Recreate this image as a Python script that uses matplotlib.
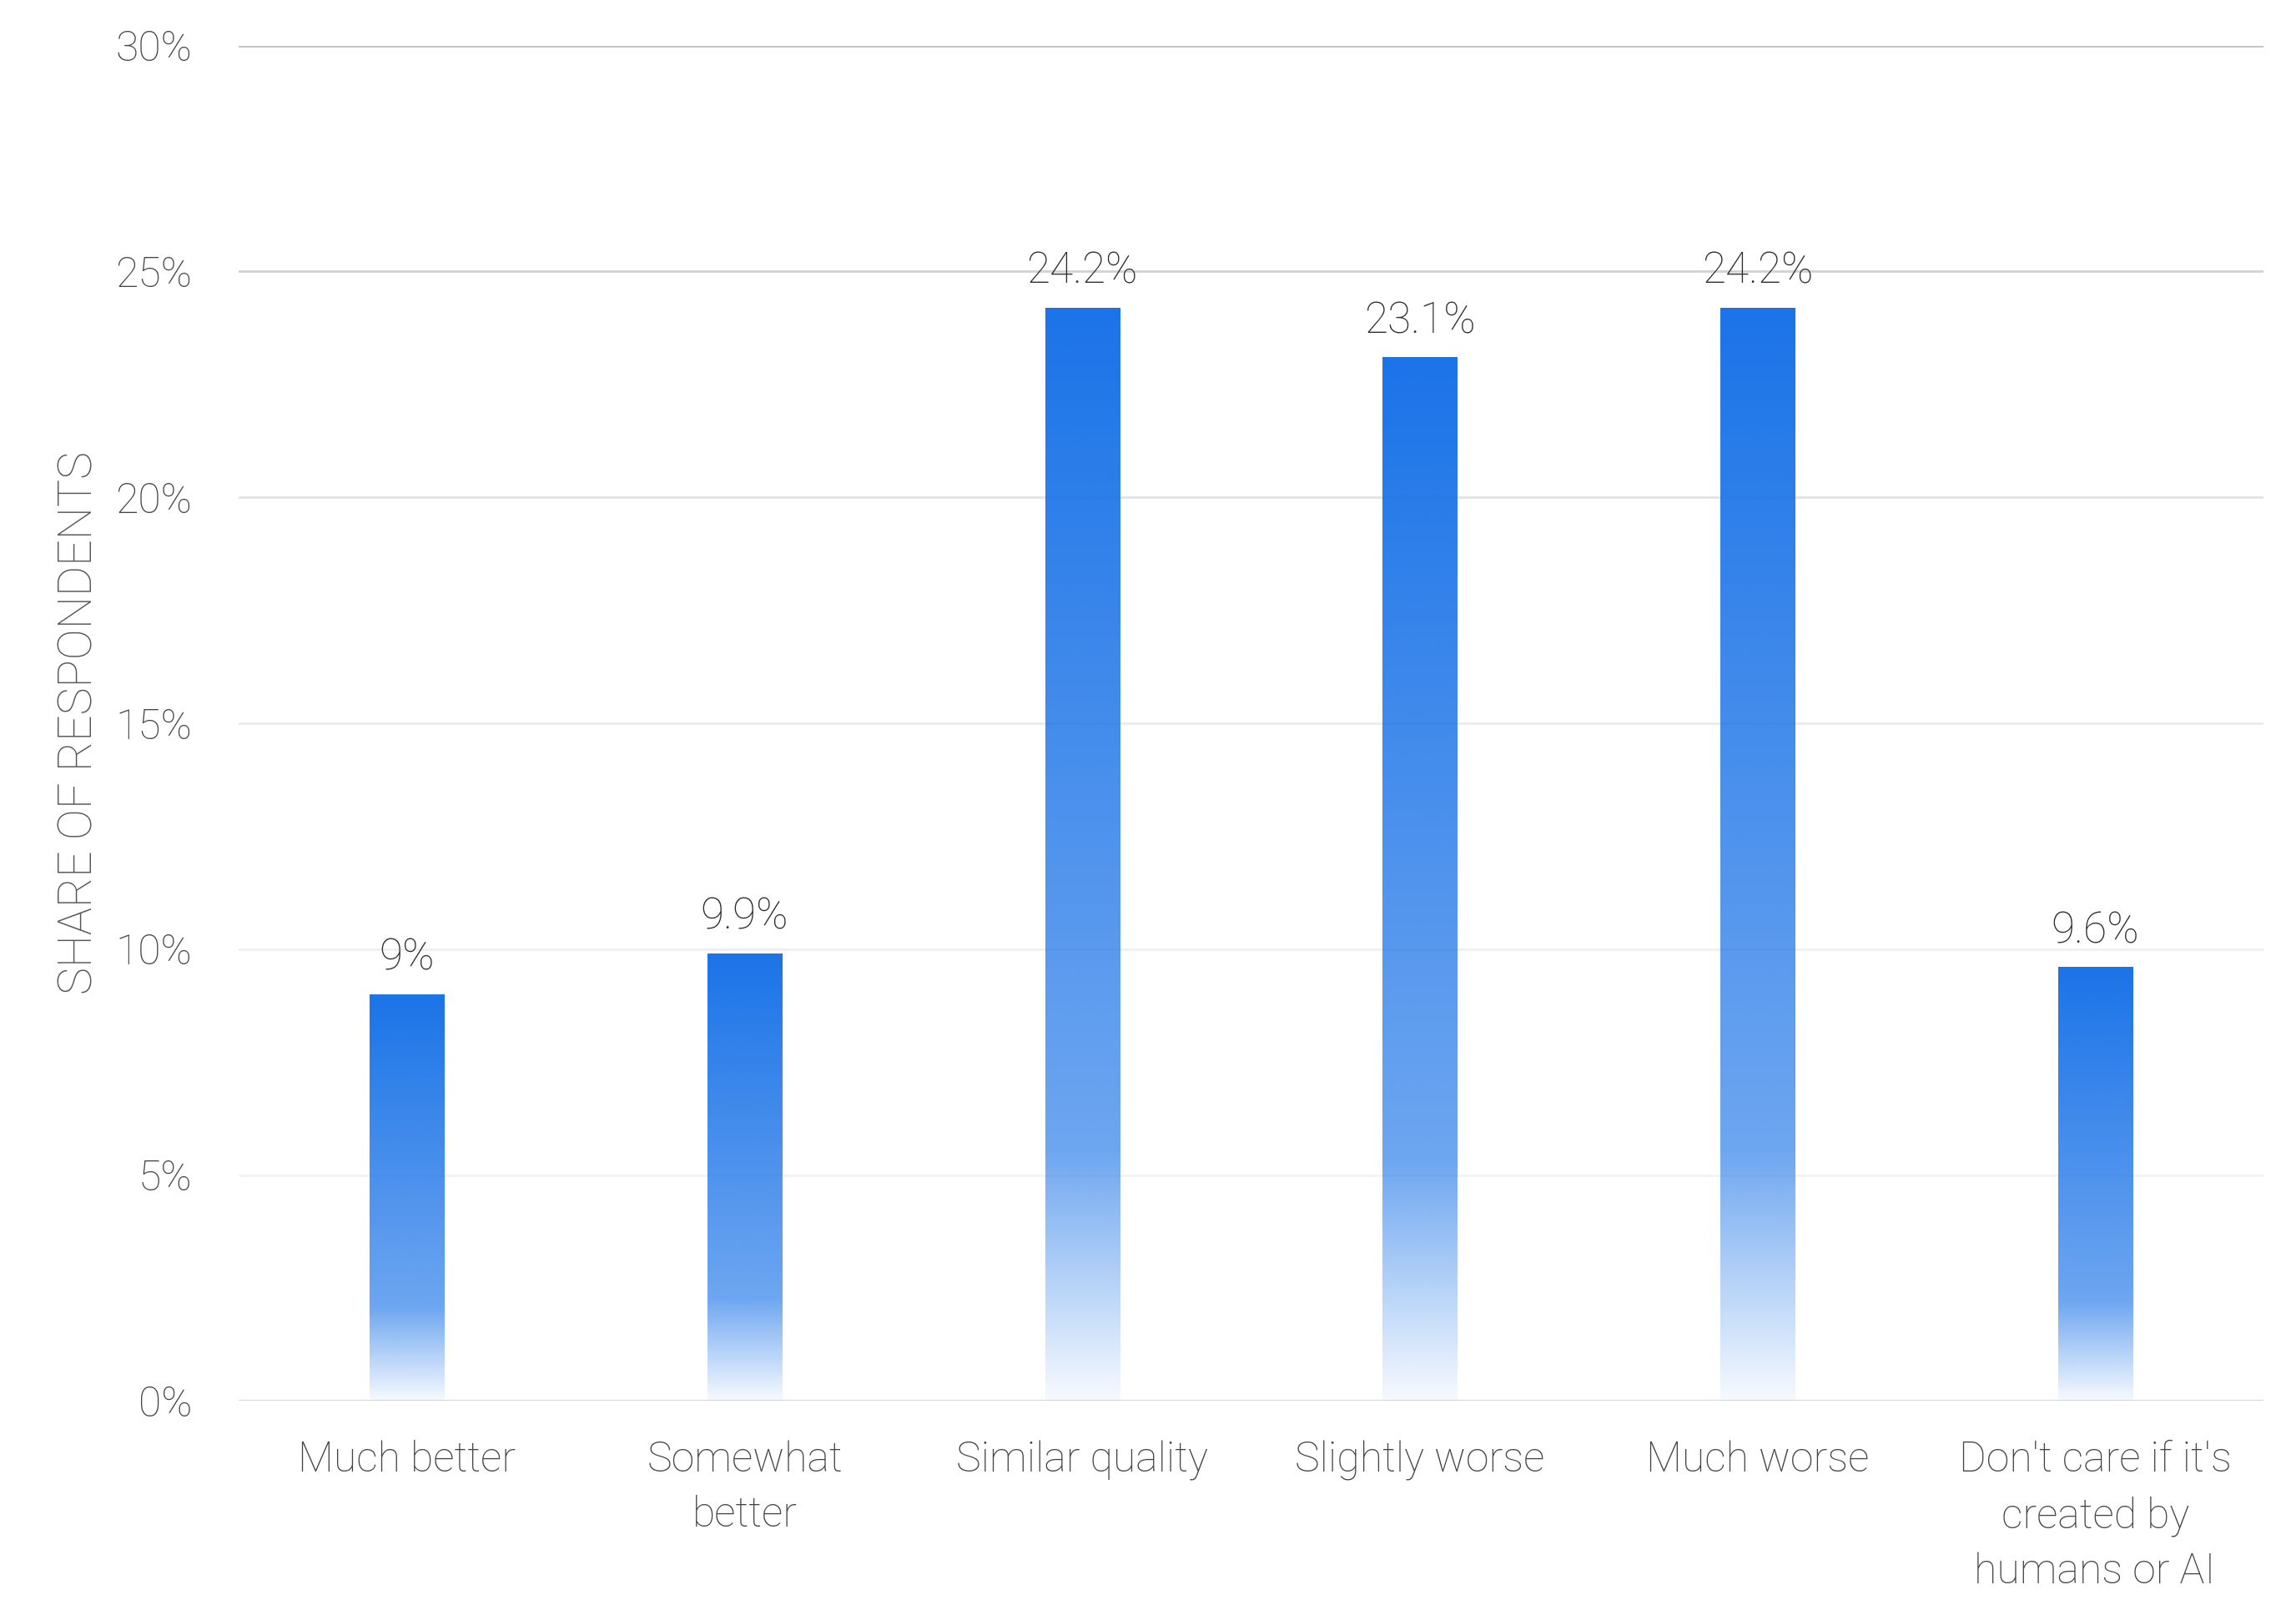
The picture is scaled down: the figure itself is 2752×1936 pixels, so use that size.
import numpy as np
import matplotlib
matplotlib.use("Agg")
import matplotlib.pyplot as plt
from matplotlib.colors import to_rgb

categories = [
    "Much better",
    "Somewhat\nbetter",
    "Similar quality",
    "Slightly worse",
    "Much worse",
    "Don't care if it's\ncreated by\nhumans or AI",
]
shares = [9.0, 9.9, 24.2, 23.1, 24.2, 9.6]
y_ticks = [0, 5, 10, 15, 20, 25, 30]
grid_colors = ["#d4d4d4", "#f3f3f3", "#efefef", "#eaeaea", "#e3e3e3", "#d2d2d2", "#c2c2c2"]

plt.rcParams["font.family"] = ["Roboto", "DejaVu Sans"]

fig = plt.figure(figsize=(13.76, 9.68), dpi=200)
ax = fig.add_axes([0.1038, 0.1326, 0.8822, 0.8392])

bar_w = 0.22
x = np.arange(len(categories))
bars = ax.bar(x, shares, width=bar_w, color="none", edgecolor="none", zorder=3)

# vertical gradient: solid blue at top, fading to near white at the bottom
blue = np.array(to_rgb("#1a73e8"))
t = np.linspace(0, 1, 400)  # 0 = top, 1 = bottom
alpha = np.interp(t, [0, 0.77, 1.0], [1.0, 0.64, 0.04])
grad = np.zeros((len(t), 1, 4))
grad[:, 0, :3] = blue
grad[:, 0, 3] = alpha

for b in bars:
    x0 = b.get_x()
    im = ax.imshow(grad, extent=(x0, x0 + b.get_width(), 0, b.get_height()),
                   aspect="auto", origin="upper", zorder=3, interpolation="bilinear")
    im.set_clip_path(b)

for xi, v in zip(x, shares):
    ax.annotate(f"{v:g}%", (xi, v), xytext=(0, 10.5), textcoords="offset points",
                ha="center", va="baseline", fontsize=18.5, color="#2e2e2e",
                fontweight="light")

for yv, c in zip(y_ticks, grid_colors):
    ax.axhline(yv, color=c, linewidth=1.0, zorder=1)

ax.set_xlim(-0.5, len(categories) - 0.5)
ax.set_ylim(0, 30)
ax.set_yticks(y_ticks)
ax.set_yticklabels([f"{v}%" for v in y_ticks])
ax.set_xticks(x)
ax.set_xticklabels(categories, linespacing=1.5)

ax.tick_params(axis="y", length=0, pad=20, labelsize=18, labelcolor="#444444")
ax.tick_params(axis="x", length=0, pad=17, labelsize=18, labelcolor="#444444")
for lab in ax.get_xticklabels() + ax.get_yticklabels():
    lab.set_fontweight("light")

for s in ax.spines.values():
    s.set_visible(False)

ax.set_ylabel("SHARE OF RESPONDENTS", fontsize=20, color="#555555",
              fontweight="light", labelpad=6)

fig.savefig("out.png", dpi=200, facecolor="white")
